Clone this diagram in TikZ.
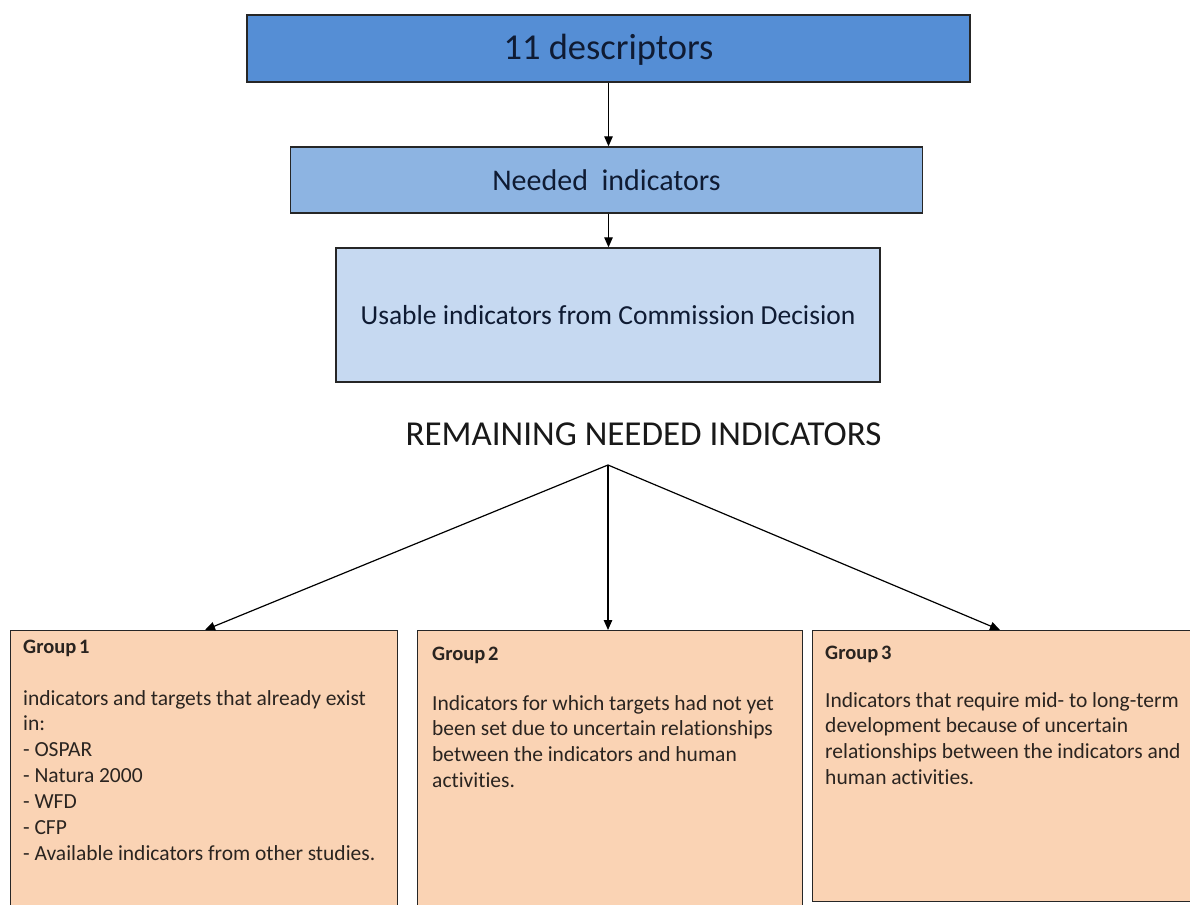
\documentclass[tikz,border=0pt]{standalone}
\usepackage{fontspec}
\setmainfont{Carlito}[Ligatures=NoCommon]
\newfontfamily\tightfont{Carlito}[Ligatures=NoCommon,WordSpace=0.6]
\newcommand\tightsp{\spaceskip=0.22em\relax}
\usetikzlibrary{arrows.meta,calc}
\definecolor{bone}{HTML}{558ED5}
\definecolor{btwo}{HTML}{8DB4E2}
\definecolor{bthree}{HTML}{C6D9F1}
\definecolor{peach}{HTML}{FAD3B4}
\definecolor{edge}{HTML}{262626}
\definecolor{navy}{HTML}{0F1B33}
\definecolor{ink}{HTML}{2A2420}
\begin{document}
\begin{tikzpicture}[x=1pt,y=-1pt,
  bluebox/.style={draw=edge, line width=1.4pt, inner sep=0pt, text=navy},
  groupbox/.style={draw=edge, line width=1.2pt, fill=peach, inner sep=0pt, anchor=north west},
  conn/.style={draw=black, line width=1.2pt, -{Triangle[length=10pt,width=8.5pt]}},
  grouptitle/.style={anchor=base west, inner sep=0pt, text=ink, font=\tightfont\fontsize{20.5}{24}\selectfont\bfseries},
  groupbody/.style={anchor=base west, inner sep=0pt, text=ink, text width=400pt, align=left, font=\tightfont\fontsize{21.5}{25.9}\selectfont}]
\useasboundingbox (0,0) rectangle (1190,904);
\clip (0,0) rectangle (1190,904);
\fill[white] (0,0) rectangle (1190,904);

\node[bluebox, fill=bone, minimum width=723pt, minimum height=67pt, text height=25pt, text depth=2pt,
  font=\fontsize{36.5}{40}\selectfont] (d) at (608.5,48.5) {11 descriptors};
\node[bluebox, fill=btwo, minimum width=632pt, minimum height=66pt, text height=21.4pt, text depth=0pt,
  font=\fontsize{30}{34}\selectfont] (n) at (606.5,180) {Needed\ \ indicators};
\node[bluebox, fill=bthree, minimum width=544pt, minimum height=134pt, text height=18pt, text depth=0pt,
  font=\fontsize{27.5}{32}\selectfont] (u) at (608,315) {Usable indicators from Commission Decision};

\draw[conn] (d.south) -- (d.south |- n.north);
\draw[conn] (d.south |- n.south) -- (d.south |- u.north);

\node[anchor=base, inner sep=0pt, text=black!90, font=\fontsize{35}{40}\selectfont] (r) at (643.5,445) {REMAINING NEEDED INDICATORS};
\coordinate (apex) at (608,465);

\node[groupbox, minimum width=387pt, minimum height=285pt] (g1) at (10,630) {};
\node[groupbox, minimum width=385pt, minimum height=285pt] (g2) at (417,630) {};
\node[groupbox, minimum width=390pt, minimum height=271pt] (g3) at (812,630) {};

\draw[conn] (apex) -- ($(g1.north west)+(195,0)$);
\draw[conn] (apex) -- (apex |- g2.north);
\draw[conn] (apex) -- ($(g3.north west)+(188,0)$);

\node[grouptitle] (t1) at (23,653) {Group 1};
\node[groupbody] (b1) at (23,705) {\tightsp indicators and targets that already exist\\ in:\\ - OSPAR\\ - Natura 2000\\ - WFD\\ - CFP\\ - Available indicators from other studies.};
\node[grouptitle] (t2) at (432,660) {Group 2};
\node[groupbody] (b2) at (432,710) {\tightsp Indicators for which targets had not yet\\ been set due to uncertain relationships\\ between the indicators and human\\ activities.};
\node[grouptitle] (t3) at (825,659) {Group 3};
\node[groupbody] (b3) at (825,707) {\tightsp Indicators that require mid- to long-term\\ development because of uncertain\\ relationships between the indicators and\\ human activities.};
\end{tikzpicture}
\end{document}
